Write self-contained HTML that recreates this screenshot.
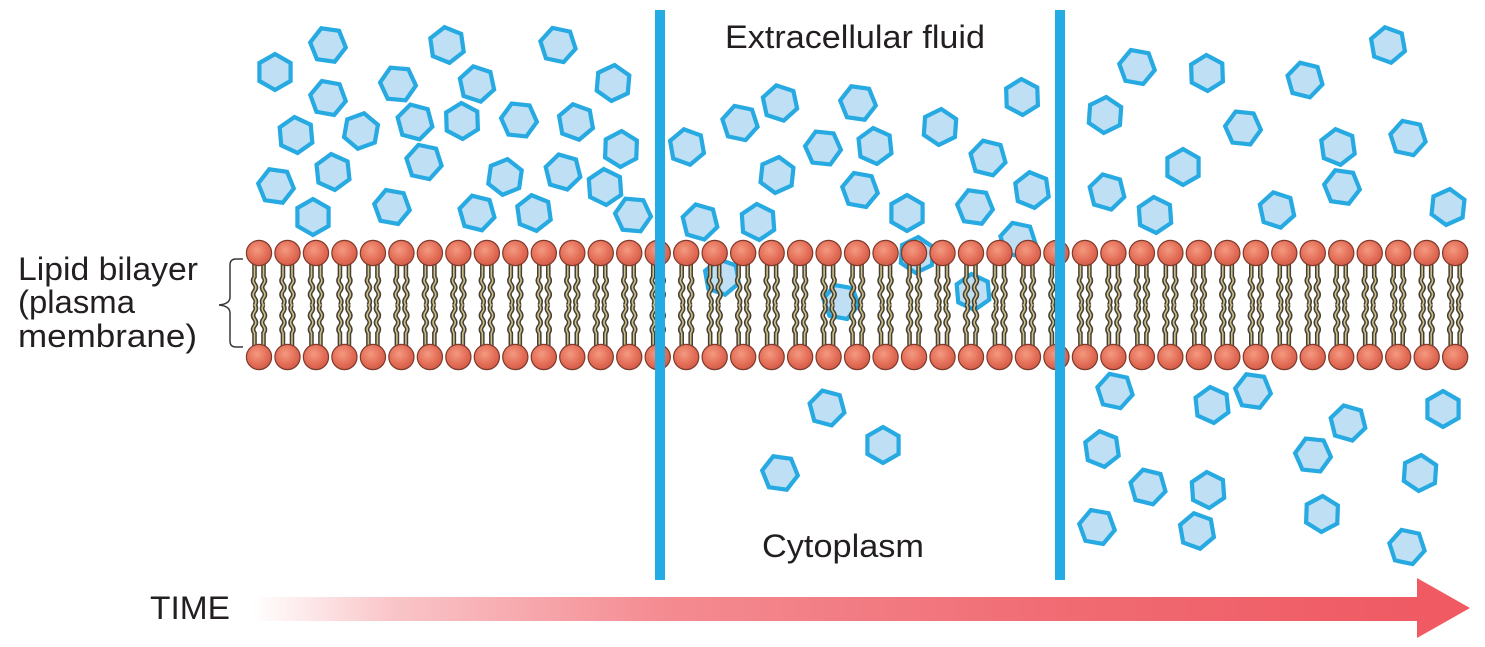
<!DOCTYPE html>
<html>
<head>
<meta charset="utf-8">
<style>
html,body{margin:0;padding:0;background:#fff;}
body{width:1485px;height:647px;overflow:hidden;}
svg{display:block;}
.t{font-family:"Liberation Sans",Arial,sans-serif;fill:#231f20;font-size:32px;}
</style>
</head>
<body>
<svg width="1485" height="647" viewBox="0 0 1485 647" xmlns="http://www.w3.org/2000/svg">
<defs>
  <radialGradient id="hg" cx="0.42" cy="0.38" r="0.65">
    <stop offset="0" stop-color="#f39a80"/>
    <stop offset="0.6" stop-color="#e5705a"/>
    <stop offset="1" stop-color="#d05a46"/>
  </radialGradient>
  <linearGradient id="ag" gradientUnits="userSpaceOnUse" x1="252" y1="0" x2="1420" y2="0">
    <stop offset="0" stop-color="#ef5a63" stop-opacity="0"/>
    <stop offset="0.12" stop-color="#ef5a63" stop-opacity="0.35"/>
    <stop offset="0.35" stop-color="#ef5a63" stop-opacity="0.7"/>
    <stop offset="0.7" stop-color="#ef5a63" stop-opacity="0.9"/>
    <stop offset="1" stop-color="#ef5a63" stop-opacity="1"/>
  </linearGradient>
  <polygon id="hx" points="18,0 9,15.59 -9,15.59 -18,0 -9,-15.59 9,-15.59" fill="#bfdff4" stroke="#27aae1" stroke-width="4.2" stroke-linejoin="miter"/>
  <g id="tails" fill="none">
    <path d="M-4.5,264 V277 q-2.8,3.5 0,7 q2.8,3.5 0,7 q-2.8,3.5 0,7 q2.8,3.5 0,7.5"/>
    <path d="M4.5,264 V277 q2.8,3.5 0,7 q-2.8,3.5 0,7 q2.8,3.5 0,7 q-2.8,3.5 0,7.5"/>
    <path d="M-4.5,346 V333 q-2.8,-3.5 0,-7 q2.8,-3.5 0,-7 q-2.8,-3.5 0,-7 q2.8,-3.5 0,-7.5"/>
    <path d="M4.5,346 V333 q2.8,-3.5 0,-7 q-2.8,-3.5 0,-7 q2.8,-3.5 0,-7 q-2.8,-3.5 0,-7.5"/>
  </g>
  <g id="lip">
    <use href="#tails" stroke="#444036" stroke-width="4.6"/>
    <use href="#tails" stroke="#cdbf88" stroke-width="1.6"/>
    <circle cx="0" cy="253" r="12.6" fill="url(#hg)" stroke="#7e3a2a" stroke-width="1.2"/>
    <circle cx="0" cy="357" r="12.6" fill="url(#hg)" stroke="#7e3a2a" stroke-width="1.2"/>
  </g>
</defs>

<g>
<use href="#hx" transform="translate(328,45) rotate(8)"/>
<use href="#hx" transform="translate(447,45) rotate(22)"/>
<use href="#hx" transform="translate(558,45) rotate(12)"/>
<use href="#hx" transform="translate(275,72) rotate(30)"/>
<use href="#hx" transform="translate(398,84) rotate(5)"/>
<use href="#hx" transform="translate(477,84) rotate(18)"/>
<use href="#hx" transform="translate(613,83) rotate(35)"/>
<use href="#hx" transform="translate(328,98) rotate(10)"/>
<use href="#hx" transform="translate(296,135) rotate(25)"/>
<use href="#hx" transform="translate(361,131) rotate(40)"/>
<use href="#hx" transform="translate(415,122) rotate(15)"/>
<use href="#hx" transform="translate(462,121) rotate(28)"/>
<use href="#hx" transform="translate(519,120) rotate(6)"/>
<use href="#hx" transform="translate(576,122) rotate(20)"/>
<use href="#hx" transform="translate(621,149) rotate(32)"/>
<use href="#hx" transform="translate(424,162) rotate(12)"/>
<use href="#hx" transform="translate(333,172) rotate(24)"/>
<use href="#hx" transform="translate(276,186) rotate(8)"/>
<use href="#hx" transform="translate(505,177) rotate(38)"/>
<use href="#hx" transform="translate(563,172) rotate(16)"/>
<use href="#hx" transform="translate(605,187) rotate(26)"/>
<use href="#hx" transform="translate(392,207) rotate(10)"/>
<use href="#hx" transform="translate(313,217) rotate(30)"/>
<use href="#hx" transform="translate(477,213) rotate(14)"/>
<use href="#hx" transform="translate(534,213) rotate(22)"/>
<use href="#hx" transform="translate(633,215) rotate(5)"/>
</g>
<g>
<use href="#hx" transform="translate(780,103) rotate(18)"/>
<use href="#hx" transform="translate(858,103) rotate(8)"/>
<use href="#hx" transform="translate(1022,97) rotate(28)"/>
<use href="#hx" transform="translate(740,123) rotate(12)"/>
<use href="#hx" transform="translate(940,127) rotate(34)"/>
<use href="#hx" transform="translate(687,147) rotate(20)"/>
<use href="#hx" transform="translate(823,148) rotate(6)"/>
<use href="#hx" transform="translate(875,146) rotate(24)"/>
<use href="#hx" transform="translate(988,158) rotate(14)"/>
<use href="#hx" transform="translate(777,175) rotate(36)"/>
<use href="#hx" transform="translate(860,190) rotate(10)"/>
<use href="#hx" transform="translate(1032,190) rotate(22)"/>
<use href="#hx" transform="translate(907,213) rotate(30)"/>
<use href="#hx" transform="translate(975,207) rotate(8)"/>
<use href="#hx" transform="translate(700,222) rotate(16)"/>
<use href="#hx" transform="translate(758,222) rotate(26)"/>
<use href="#hx" transform="translate(1018,240) rotate(12)"/>
<use href="#hx" transform="translate(722,277) rotate(20)"/>
<use href="#hx" transform="translate(917,255) rotate(34)"/>
<use href="#hx" transform="translate(841,302) rotate(10)"/>
<use href="#hx" transform="translate(973,292) rotate(25)"/>
<use href="#hx" transform="translate(827,408) rotate(15)"/>
<use href="#hx" transform="translate(883,445) rotate(30)"/>
<use href="#hx" transform="translate(780,473) rotate(8)"/>
</g>
<g>
<use href="#hx" transform="translate(1388,45) rotate(20)"/>
<use href="#hx" transform="translate(1137,67) rotate(10)"/>
<use href="#hx" transform="translate(1207,73) rotate(28)"/>
<use href="#hx" transform="translate(1305,80) rotate(14)"/>
<use href="#hx" transform="translate(1105,115) rotate(34)"/>
<use href="#hx" transform="translate(1243,128) rotate(6)"/>
<use href="#hx" transform="translate(1338,147) rotate(22)"/>
<use href="#hx" transform="translate(1408,138) rotate(12)"/>
<use href="#hx" transform="translate(1183,167) rotate(30)"/>
<use href="#hx" transform="translate(1107,192) rotate(16)"/>
<use href="#hx" transform="translate(1342,187) rotate(8)"/>
<use href="#hx" transform="translate(1155,215) rotate(26)"/>
<use href="#hx" transform="translate(1277,210) rotate(18)"/>
<use href="#hx" transform="translate(1448,207) rotate(36)"/>
<use href="#hx" transform="translate(1115,391) rotate(12)"/>
<use href="#hx" transform="translate(1212,405) rotate(24)"/>
<use href="#hx" transform="translate(1253,391) rotate(8)"/>
<use href="#hx" transform="translate(1443,409) rotate(30)"/>
<use href="#hx" transform="translate(1348,423) rotate(16)"/>
<use href="#hx" transform="translate(1102,449) rotate(22)"/>
<use href="#hx" transform="translate(1313,455) rotate(6)"/>
<use href="#hx" transform="translate(1420,473) rotate(34)"/>
<use href="#hx" transform="translate(1148,487) rotate(14)"/>
<use href="#hx" transform="translate(1208,490) rotate(26)"/>
<use href="#hx" transform="translate(1097,527) rotate(10)"/>
<use href="#hx" transform="translate(1197,531) rotate(20)"/>
<use href="#hx" transform="translate(1322,514) rotate(32)"/>
<use href="#hx" transform="translate(1407,547) rotate(12)"/>
</g>

<g>
<use href="#lip" x="259"/>
<use href="#lip" x="287.48"/>
<use href="#lip" x="315.96"/>
<use href="#lip" x="344.44"/>
<use href="#lip" x="372.92"/>
<use href="#lip" x="401.4"/>
<use href="#lip" x="429.88"/>
<use href="#lip" x="458.36"/>
<use href="#lip" x="486.84"/>
<use href="#lip" x="515.32"/>
<use href="#lip" x="543.8"/>
<use href="#lip" x="572.28"/>
<use href="#lip" x="600.76"/>
<use href="#lip" x="629.24"/>
<use href="#lip" x="657.72"/>
<use href="#lip" x="686.2"/>
<use href="#lip" x="714.68"/>
<use href="#lip" x="743.16"/>
<use href="#lip" x="771.64"/>
<use href="#lip" x="800.12"/>
<use href="#lip" x="828.6"/>
<use href="#lip" x="857.08"/>
<use href="#lip" x="885.56"/>
<use href="#lip" x="914.04"/>
<use href="#lip" x="942.52"/>
<use href="#lip" x="971"/>
<use href="#lip" x="999.48"/>
<use href="#lip" x="1027.96"/>
<use href="#lip" x="1056.44"/>
<use href="#lip" x="1084.92"/>
<use href="#lip" x="1113.4"/>
<use href="#lip" x="1141.88"/>
<use href="#lip" x="1170.36"/>
<use href="#lip" x="1198.84"/>
<use href="#lip" x="1227.32"/>
<use href="#lip" x="1255.8"/>
<use href="#lip" x="1284.28"/>
<use href="#lip" x="1312.76"/>
<use href="#lip" x="1341.24"/>
<use href="#lip" x="1369.72"/>
<use href="#lip" x="1398.2"/>
<use href="#lip" x="1426.68"/>
<use href="#lip" x="1455.16"/>
</g>

<rect x="655" y="10" width="10" height="570" fill="#22ace3"/>
<rect x="1055" y="10" width="10" height="570" fill="#22ace3"/>

<path d="M243,259 H236 Q230,259 230,265 V297 Q230,304 219,305 Q230,306 230,313 V341 Q230,347 236,347 H243" fill="none" stroke="#3a3a3a" stroke-width="1.5"/>

<text class="t" x="725" y="48" textLength="260" lengthAdjust="spacingAndGlyphs">Extracellular fluid</text>
<text class="t" x="762" y="557" textLength="162" lengthAdjust="spacingAndGlyphs">Cytoplasm</text>
<text class="t" x="18" y="280" textLength="180" lengthAdjust="spacingAndGlyphs">Lipid bilayer</text>
<text class="t" x="18" y="313" textLength="117" lengthAdjust="spacingAndGlyphs">(plasma</text>
<text class="t" x="18" y="347" textLength="179" lengthAdjust="spacingAndGlyphs">membrane)</text>
<text class="t" x="150" y="619" textLength="80" lengthAdjust="spacingAndGlyphs">TIME</text>

<rect x="252" y="597" width="1168" height="24" fill="url(#ag)"/>
<polygon points="1417,578 1470,608 1417,638" fill="#ef5a63"/>
</svg>
</body>
</html>
